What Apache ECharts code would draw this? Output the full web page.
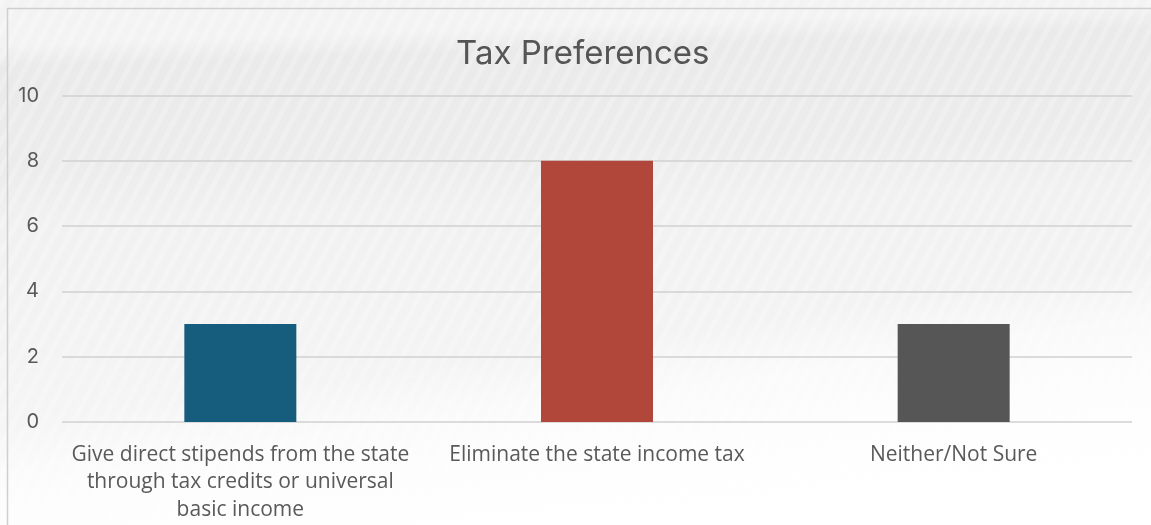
<!DOCTYPE html>
<html>
<head>
<meta charset="utf-8">
<script src="https://cdn.jsdelivr.net/npm/echarts@6/dist/echarts.min.js"></script>
<style>
  html, body { margin: 0; padding: 0; }
  body {
    width: 1151px; height: 525px; overflow: hidden;
    background:
      linear-gradient(172deg, rgba(255,255,255,0) 0 62%, rgba(255,255,255,0.55) 70%, rgba(255,255,255,0.9) 85%, #fff 100%),
      repeating-linear-gradient(118deg, rgba(255,255,255,0.22) 0 5px, rgba(255,255,255,0) 5px 13px),
      linear-gradient(178deg, #f3f3f4 0 8%, #eaeaeb 12%, #ececed 30%, #f1f1f2 40%, #f3f3f3 60%, #f6f6f6 80%, #fbfbfb 100%);
  }
  #chart { width: 1151px; height: 525px; }
</style>
</head>
<body>
<div id="chart"></div>
<script>
// Survey answers: which tax approach respondents prefer
const categories = [
  'Give direct stipends from the state\nthrough tax credits or universal\nbasic income',
  'Eliminate the state income tax',
  'Neither/Not Sure'
];
const responses = [3, 8, 3];
const barColors = ['#165c7d', '#b1463a', '#575656'];
const yTicks = { min: 0, max: 10, interval: 2 };

const chart = echarts.init(document.getElementById('chart'), null, { renderer: 'canvas' });

chart.setOption({
  backgroundColor: 'transparent',
  animation: false,
  title: {
    text: 'Tax Preferences',
    left: 451,
    top: 33,
    textStyle: { fontFamily: 'Inter', fontWeight: 'normal', fontSize: 33, color: '#555555' }
  },
  graphic: [{
    type: 'rect',
    shape: { x: 7.5, y: 8.5, width: 1300, height: 700 },
    style: { fill: 'none', stroke: '#cfcfcf', lineWidth: 1.5 },
    silent: true
  }],
  grid: { left: 62, right: 19, top: 95.5, bottom: 103, containLabel: false },
  xAxis: {
    type: 'category',
    data: categories,
    axisLine: { show: false },
    axisTick: { show: false },
    axisLabel: {
      interval: 0,
      margin: 19,
      fontFamily: 'Open Sans',
      fontSize: 21,
      lineHeight: 27.5,
      color: '#595959',
      align: 'center',
      verticalAlign: 'top'
    }
  },
  yAxis: {
    type: 'value',
    min: yTicks.min,
    max: yTicks.max,
    interval: yTicks.interval,
    axisLine: { show: false },
    axisTick: { show: false },
    axisLabel: { margin: 23, fontFamily: 'Inter', fontSize: 20, color: '#595959' },
    splitLine: { lineStyle: { color: '#d0d0d0', width: 1.5 } }
  },
  series: [{
    type: 'bar',
    data: responses.map((v, i) => ({ value: v, itemStyle: { color: barColors[i] } })),
    barWidth: '31.4%'
  }]
});
</script>
</body>
</html>
